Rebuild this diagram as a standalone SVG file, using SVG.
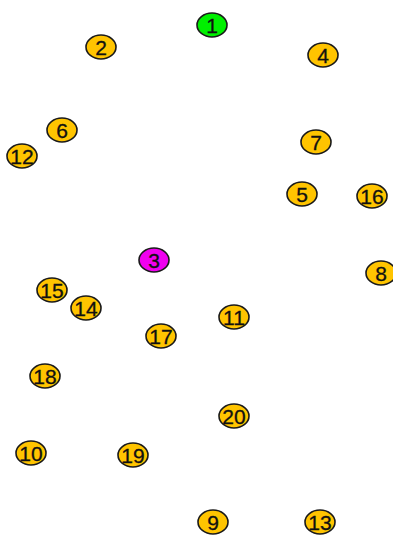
<svg xmlns="http://www.w3.org/2000/svg" width="393" height="535" viewBox="0 0 393 535">
<style>
.n ellipse{stroke:#1a1a1a;stroke-width:1.6;fill:#ffc400}
.n text{font-family:"Liberation Sans",Arial,sans-serif;font-size:21px;fill:#111;stroke:#111;stroke-width:0.3;text-anchor:middle;dominant-baseline:central}
#n1 ellipse{fill:#00f000}
#n3 ellipse{fill:#f000f0}
</style>
<rect width="393" height="535" fill="#fff"/>
<g id="edges"></g>
<g id="n1" class="n"><ellipse cx="212" cy="25" rx="15" ry="12"/><text x="212" y="25">1</text></g>
<g id="n2" class="n"><ellipse cx="101" cy="47" rx="15" ry="12"/><text x="101" y="47">2</text></g>
<g id="n4" class="n"><ellipse cx="323" cy="55" rx="15" ry="12"/><text x="323" y="55">4</text></g>
<g id="n6" class="n"><ellipse cx="62" cy="130" rx="15" ry="12"/><text x="62" y="130">6</text></g>
<g id="n12" class="n"><ellipse cx="22" cy="156" rx="15" ry="12"/><text x="22" y="156">12</text></g>
<g id="n7" class="n"><ellipse cx="316" cy="142" rx="15" ry="12"/><text x="316" y="142">7</text></g>
<g id="n5" class="n"><ellipse cx="302" cy="194" rx="15" ry="12"/><text x="302" y="194">5</text></g>
<g id="n16" class="n"><ellipse cx="372" cy="196" rx="15" ry="12"/><text x="372" y="196">16</text></g>
<g id="n3" class="n"><ellipse cx="154" cy="260" rx="15" ry="12"/><text x="154" y="260">3</text></g>
<g id="n8" class="n"><ellipse cx="381" cy="273" rx="15" ry="12"/><text x="381" y="273">8</text></g>
<g id="n15" class="n"><ellipse cx="52" cy="290" rx="15" ry="12"/><text x="52" y="290">15</text></g>
<g id="n14" class="n"><ellipse cx="86" cy="308" rx="15" ry="12"/><text x="86" y="308">14</text></g>
<g id="n11" class="n"><ellipse cx="234" cy="317" rx="15" ry="12"/><text x="234" y="317">11</text></g>
<g id="n17" class="n"><ellipse cx="161" cy="336" rx="15" ry="12"/><text x="161" y="336">17</text></g>
<g id="n18" class="n"><ellipse cx="45" cy="376" rx="15" ry="12"/><text x="45" y="376">18</text></g>
<g id="n20" class="n"><ellipse cx="234" cy="416" rx="15" ry="12"/><text x="234" y="416">20</text></g>
<g id="n10" class="n"><ellipse cx="31" cy="453" rx="15" ry="12"/><text x="31" y="453">10</text></g>
<g id="n19" class="n"><ellipse cx="133" cy="455" rx="15" ry="12"/><text x="133" y="455">19</text></g>
<g id="n9" class="n"><ellipse cx="213" cy="522" rx="15" ry="12"/><text x="213" y="522">9</text></g>
<g id="n13" class="n"><ellipse cx="320" cy="522" rx="15" ry="12"/><text x="320" y="522">13</text></g>
</svg>
